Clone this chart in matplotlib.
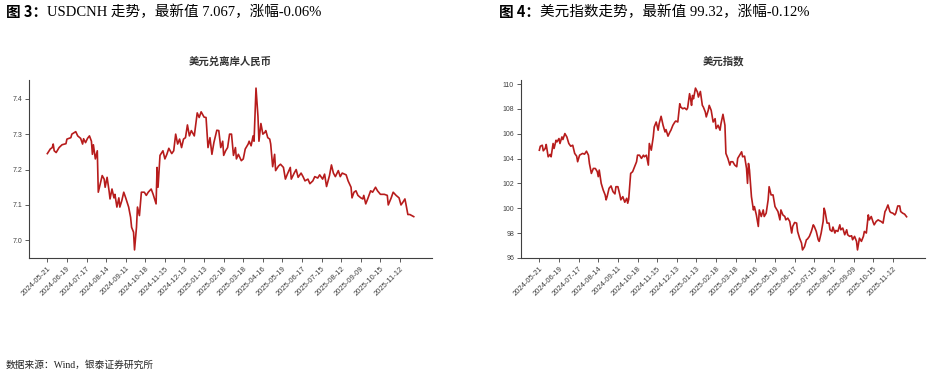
import matplotlib
matplotlib.use("Agg")
import matplotlib.pyplot as plt
from matplotlib.text import Annotation
from matplotlib.ticker import MultipleLocator, FormatStrFormatter

plt.rcParams['font.family'] = ['Liberation Sans', 'Noto Sans CJK SC']

# 刻度标签（每20个交易日一个）
tick_labels = ['2024-05-21', '2024-06-19', '2024-07-17', '2024-08-14', '2024-09-11',
               '2024-10-18', '2024-11-15', '2024-12-13', '2025-01-13', '2025-02-18',
               '2025-03-18', '2025-04-16', '2025-05-19', '2025-06-17', '2025-07-15',
               '2025-08-12', '2025-09-09', '2025-10-15', '2025-11-12']
tick_pos = [i * 20 for i in range(len(tick_labels))]

# 美元兑离岸人民币 (交易日序号, 数值)
cnh_day = [0, 3, 5, 6, 7, 9, 12, 15, 19, 20, 24, 25, 29, 31, 34, 36, 37, 39, 41, 43,
           45, 46, 47, 49, 51, 52, 54, 56, 58, 59, 61, 63, 64, 66, 68, 69, 71, 73, 74, 76,
           78, 80, 83, 85, 86, 88, 89, 91, 92, 94, 96, 99, 101, 103, 106, 108, 111, 112, 113, 115,
           118, 120, 122, 124, 127, 129, 131, 133, 135, 137, 139, 141, 143, 145, 147, 150, 152, 153, 155, 157,
           160, 162, 164, 166, 168, 170, 173, 175, 177, 179, 180, 182, 184, 186, 188, 190, 192, 193, 195, 198,
           200, 202, 205, 206, 208, 210, 211, 213, 215, 216, 218, 220, 222, 223, 225, 227, 228, 230, 232, 233,
           236, 238, 241, 243, 245, 248, 249, 252, 254, 256, 259, 261, 263, 266, 268, 271, 273, 276, 278, 281,
           283, 285, 288, 290, 292, 294, 297, 299, 301, 305, 307, 310, 311, 313, 315, 317, 320, 322, 323, 325,
           327, 330, 332, 335, 337, 340, 344, 347, 348, 351, 353, 356, 359, 361, 363, 365, 366, 368, 370, 374]
cnh_val = [7.245, 7.258, 7.262, 7.272, 7.253, 7.248, 7.262, 7.270, 7.273, 7.286, 7.290, 7.300, 7.307, 7.295, 7.288, 7.272, 7.287, 7.276, 7.288, 7.295,
           7.280, 7.243, 7.270, 7.230, 7.253, 7.136, 7.160, 7.183, 7.173, 7.150, 7.178, 7.140, 7.117, 7.145, 7.120, 7.130, 7.094, 7.120, 7.094, 7.112,
           7.136, 7.120, 7.094, 7.065, 7.037, 7.023, 6.973, 7.037, 7.094, 7.070, 7.136, 7.136, 7.127, 7.136, 7.145, 7.130, 7.103, 7.206, 7.150, 7.240,
           7.253, 7.230, 7.243, 7.260, 7.245, 7.253, 7.300, 7.272, 7.286, 7.262, 7.286, 7.290, 7.326, 7.295, 7.310, 7.295, 7.337, 7.360, 7.347, 7.363,
           7.348, 7.347, 7.262, 7.290, 7.243, 7.276, 7.311, 7.310, 7.262, 7.280, 7.240, 7.253, 7.262, 7.300, 7.300, 7.240, 7.262, 7.230, 7.243, 7.225,
           7.230, 7.258, 7.272, 7.280, 7.267, 7.295, 7.280, 7.430, 7.350, 7.280, 7.330, 7.300, 7.305, 7.310, 7.290, 7.286, 7.272, 7.208, 7.243, 7.197,
           7.210, 7.215, 7.206, 7.173, 7.187, 7.206, 7.173, 7.190, 7.200, 7.178, 7.190, 7.180, 7.168, 7.173, 7.160, 7.168, 7.180, 7.176, 7.185, 7.173,
           7.187, 7.152, 7.183, 7.213, 7.190, 7.180, 7.197, 7.180, 7.190, 7.185, 7.168, 7.150, 7.120, 7.136, 7.140, 7.127, 7.120, 7.117, 7.127, 7.103,
           7.117, 7.140, 7.136, 7.150, 7.140, 7.130, 7.130, 7.127, 7.100, 7.120, 7.136, 7.127, 7.120, 7.100, 7.108, 7.117, 7.103, 7.073, 7.073, 7.067]

# 美元指数 (交易日序号, 数值)
dxy_day = [0, 1, 3, 4, 6, 7, 9, 11, 12, 14, 15, 17, 18, 20, 21, 23, 24, 26, 28, 30,
           32, 34, 36, 38, 39, 41, 44, 46, 48, 50, 51, 53, 55, 57, 59, 60, 61, 63, 65, 67,
           68, 69, 71, 73, 75, 77, 78, 80, 82, 83, 85, 87, 89, 90, 91, 93, 95, 97, 99, 100,
           102, 104, 106, 107, 109, 111, 112, 114, 116, 117, 119, 121, 122, 124, 126, 128, 129, 131, 133, 134,
           136, 138, 139, 141, 143, 144, 146, 148, 150, 151, 153, 154, 155, 156, 157, 159, 161, 162, 164, 166,
           167, 169, 170, 172, 173, 175, 177, 179, 180, 182, 184, 185, 187, 189, 190, 192, 194, 195, 197, 199,
           201, 202, 204, 206, 207, 209, 211, 212, 213, 214, 216, 218, 219, 221, 223, 224, 226, 228, 229, 231,
           233, 234, 236, 238, 240, 241, 243, 245, 246, 248, 250, 251, 253, 255, 257, 258, 260, 262, 263, 265,
           267, 268, 270, 272, 273, 275, 277, 279, 280, 282, 284, 285, 287, 289, 290, 291, 293, 295, 296, 298,
           299, 301, 302, 304, 306, 307, 309, 311, 313, 314, 316, 318, 319, 321, 323, 324, 326, 328, 330, 331,
           333, 335, 336, 338, 340, 341, 343, 345, 346, 348, 350, 352, 353, 355, 357, 358, 360, 362, 363, 365,
           367, 368, 370, 372, 374]
dxy_val = [104.68, 105.00, 105.08, 104.63, 104.82, 105.14, 104.15, 104.34, 104.15, 105.22, 104.82, 105.48, 105.35, 105.62, 105.22, 105.75, 105.54, 106.02, 105.75, 105.22,
           105.00, 105.08, 104.42, 104.20, 103.75, 104.28, 104.42, 104.36, 104.60, 104.28, 103.61, 102.81, 103.21, 103.21, 102.95, 102.55, 103.08, 102.01, 101.48, 101.08,
           100.68, 100.94, 101.61, 101.80, 101.34, 101.16, 101.74, 101.74, 101.08, 100.68, 100.94, 100.49, 100.81, 100.41, 100.73, 102.81, 102.95, 103.35, 103.75, 104.28,
           104.28, 104.02, 104.28, 104.15, 104.28, 103.48, 105.22, 104.68, 105.75, 106.55, 106.95, 106.29, 106.82, 107.41, 106.69, 106.15, 106.34, 105.81, 106.15, 106.29,
           106.69, 106.95, 107.03, 106.95, 108.42, 108.16, 108.02, 108.08, 107.94, 108.08, 109.23, 108.82, 108.29, 109.09, 108.82, 109.68, 109.36, 108.96, 109.41, 108.29,
           108.16, 107.76, 107.36, 107.89, 108.29, 107.89, 106.95, 107.22, 106.42, 106.69, 106.29, 106.82, 107.57, 106.69, 104.42, 104.02, 103.48, 103.75, 103.75, 103.48,
           103.35, 104.02, 104.28, 104.55, 104.15, 104.20, 103.21, 102.01, 103.61, 103.08, 100.94, 99.87, 100.14, 99.47, 98.54, 99.87, 99.34, 99.87, 99.34, 99.61,
           100.68, 101.74, 101.08, 101.08, 100.14, 100.01, 99.74, 99.07, 99.87, 99.47, 99.34, 99.07, 99.21, 98.94, 98.01, 98.54, 98.86, 98.81, 98.14, 97.60,
           97.20, 96.65, 96.90, 97.47, 97.52, 97.74, 98.14, 98.67, 98.54, 98.14, 97.47, 97.34, 98.01, 98.94, 100.01, 99.74, 98.81, 98.81, 98.27, 98.14,
           98.49, 98.01, 98.22, 98.14, 98.67, 98.27, 98.41, 97.87, 98.27, 97.87, 97.74, 97.79, 97.47, 97.74, 97.34, 96.65, 97.60, 97.34, 97.74, 98.14,
           98.01, 99.47, 99.07, 99.34, 98.86, 98.67, 98.94, 99.07, 99.02, 98.94, 98.81, 99.74, 99.87, 100.27, 99.74, 99.66, 99.61, 99.47, 99.61, 100.19,
           100.19, 99.74, 99.61, 99.53, 99.32]

line_color = '#B71C1C'
axis_color = '#404040'
serif_cjk = ['Liberation Serif', 'Noto Sans CJK SC']

fig = plt.figure(figsize=(9.36, 3.76), dpi=100)
ax1 = fig.add_axes([0.031, 0.3138, 0.4306, 0.4734])
ax2 = fig.add_axes([0.5566, 0.3138, 0.4316, 0.4734])


def style_axis(ax, title, step, fmt):
    ax.set_title(title, fontsize=7.5, fontweight='bold', color='#333333',
                 family=['Noto Sans CJK SC'], pad=11)
    for s in ['top', 'right']:
        ax.spines[s].set_visible(False)
    for s in ['left', 'bottom']:
        ax.spines[s].set_color(axis_color)
        ax.spines[s].set_linewidth(0.8)
    ax.yaxis.set_major_locator(MultipleLocator(step))
    ax.yaxis.set_major_formatter(FormatStrFormatter(fmt))
    ax.set_xticks(tick_pos)
    ax.set_xticklabels(tick_labels, rotation=45, ha='right', rotation_mode='anchor')
    ax.tick_params(axis='both', colors=axis_color, labelsize=5, length=3, width=0.6, pad=2)
    ax.tick_params(axis='x', labelsize=5.5)


ax1.plot(cnh_day, cnh_val, color=line_color, linewidth=1.2)
style_axis(ax1, '美元兑离岸人民币', 0.1, '%.1f')

ax2.plot(dxy_day, dxy_val, color=line_color, linewidth=1.2)
style_axis(ax2, '美元指数', 2, '%d')

# 图标题：加粗的编号 + 正文（正文紧接在编号后面）
for x0, head, body in [(0.006, '图 3：', 'USDCNH 走势，最新值 7.067，涨幅-0.06%'),
                       (0.533, '图 4：', '美元指数走势，最新值 99.32，涨幅-0.12%')]:
    t = fig.text(x0, 0.968, head, fontsize=10.5, fontweight='bold',
                 family=['Noto Sans CJK SC'], va='center')
    fig.add_artist(Annotation(body, xy=(1, 0.5), xycoords=t, fontsize=10.5,
                              family=serif_cjk, va='center', ha='left'))

fig.text(0.006, 0.03, '数据来源：Wind，银泰证券研究所', fontsize=7,
         family=serif_cjk, va='center', color='#222222')

fig.savefig('out.png', dpi=100)
